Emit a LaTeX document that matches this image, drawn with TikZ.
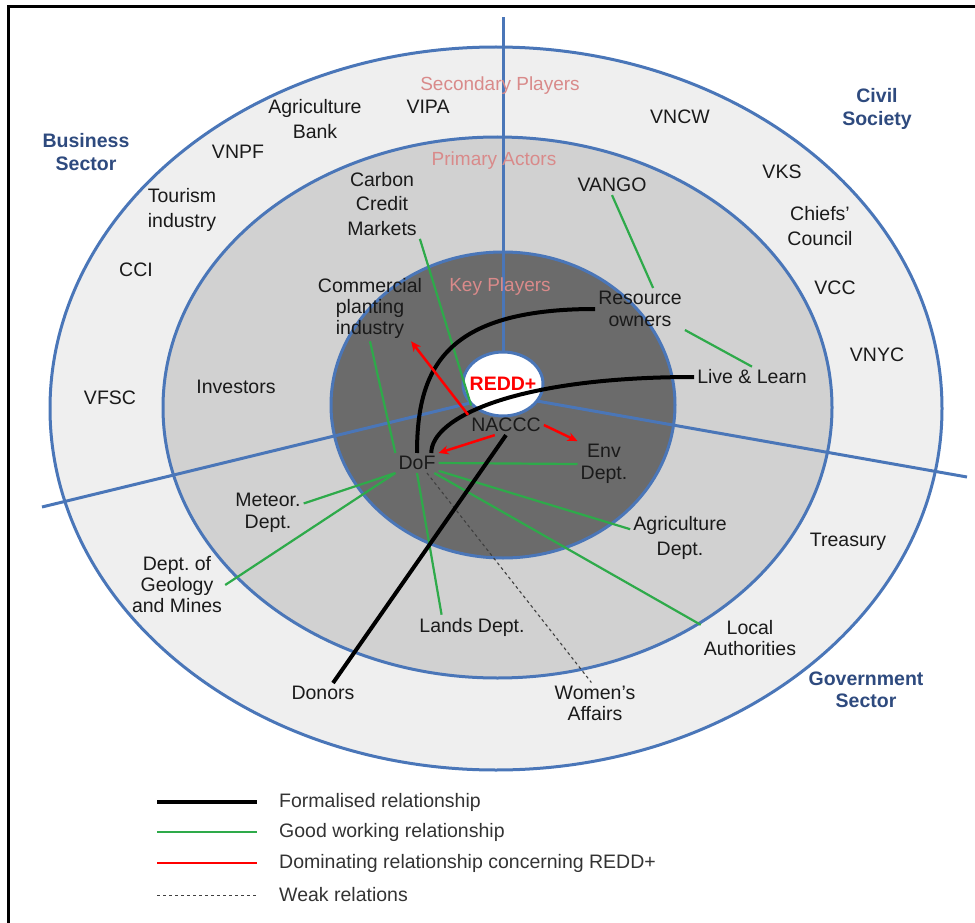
\documentclass[tikz,border=0pt]{standalone}
\usepackage{fontspec}
\setmainfont{Liberation Sans}
\usepackage{xcolor}
\usepackage{tikz}
\usetikzlibrary{arrows.meta,shapes.geometric}
\frenchspacing
\newcommand{\actfont}{\fontsize{19.5}{22.5}\selectfont}
\definecolor{ringBlue}{HTML}{4A76B8}
\definecolor{sectBlue}{HTML}{2E4A7E}
\definecolor{layerPink}{HTML}{D98A8A}
\definecolor{goodGreen}{HTML}{2EAA4A}
\definecolor{outerGrey}{HTML}{EFEFEF}
\definecolor{midGrey}{HTML}{D1D1D1}
\definecolor{keyGrey}{HTML}{6B6B6B}
\definecolor{txtGrey}{HTML}{1A1A1A}
\tikzset{
  actor/.style={font=\actfont,text=txtGrey,align=center,inner sep=3pt},
  loose/.style={font=\fontsize{19.5}{24.5}\selectfont},
  tight/.style={font=\fontsize{19.5}{21}\selectfont},
  layer/.style={font=\fontsize{19}{22}\selectfont,text=layerPink,inner sep=2pt},
  sector/.style={font=\bfseries\fontsize{19.5}{22.5}\selectfont,text=sectBlue,align=center},
  ring/.style={draw=ringBlue,line width=3pt},
  redd/.style={ellipse,draw=ringBlue,line width=3pt,fill=white,minimum width=80pt,
    minimum height=64pt,inner sep=0pt,text=red,font=\bfseries\fontsize{19.5}{22}\selectfont},
  formal/.style={line width=4pt,black},
  good/.style={line width=2.2pt,goodGreen},
  domin/.style={line width=2.5pt,red,-{Stealth[length=10pt,width=9pt]}},
  weak/.style={line width=1.1pt,black!75,dash pattern=on 3pt off 3pt},
  legtext/.style={font=\actfont,text=black!80,anchor=west,inner sep=0pt},
}
\begin{document}
\begin{tikzpicture}[x=1pt,y=-1pt]
\useasboundingbox (0,0) rectangle (975,923);
\clip (0,0) rectangle (975,923);
\draw[line width=3pt] (8,7) rectangle (1010,960);
% rings
\fill[outerGrey] (496,408.5) ellipse [x radius=446pt,y radius=361.5pt];
\fill[midGrey] (497.5,407.5) ellipse [x radius=334.5pt,y radius=270.5pt];
\fill[keyGrey] (503,405) ellipse [x radius=172pt,y radius=153pt];
\coordinate (hub) at (503,395);
\coordinate (nEnd) at (503,17);
\coordinate (wEnd) at (42,507);
\coordinate (eEnd) at (967,477);
\draw[ring] (hub) -- (nEnd);
\draw[ring] (hub) -- (wEnd);
\draw[ring] (hub) -- (eEnd);
\draw[ring] (496,408.5) ellipse [x radius=446pt,y radius=361.5pt];
\draw[ring] (497.5,407.5) ellipse [x radius=334.5pt,y radius=270.5pt];
\draw[ring] (503,405) ellipse [x radius=172pt,y radius=153pt];
\node[redd] (redd) at (503,384) {\makebox[0pt]{REDD+}};
% layer and sector labels
\node[layer] (secp) at (500,86) {Secondary Players};
\node[layer] (prim) at (494,161) {Primary Actors};
\node[layer] (keyp) at (500,287) {Key Players};
\node[sector] (bus) at (86,152) {Business\\Sector};
\node[sector] (civ) at (877,109) {Civil\\Society};
\node[sector] (gov) at (866,690) {Government\\Sector};
% secondary players
\node[actor,loose] (agbank) at (315,119) {Agriculture\\Bank};
\node[actor] (vipa) at (428,107) {VIPA};
\node[actor] (vncw) at (680,117) {VNCW};
\node[actor] (vnpf) at (238,152) {VNPF};
\node[actor] (vks) at (782,172) {VKS};
\node[actor,loose] (tour) at (182,210) {Tourism\\industry};
\node[actor,loose] (chiefs) at (820,226) {Chiefs'\\Council};
\node[actor] (cci) at (136,270) {CCI};
\node[actor] (vcc) at (835,288) {VCC};
\node[actor] (vnyc) at (877,355) {VNYC};
\node[actor] (vfsc) at (110,398) {VFSC};
\node[actor] (treas) at (848,542) {Treasury};
\node[actor] (donors) at (323,693) {Donors};
\node[actor,tight] (women) at (595,703) {Women's\\Affairs};
% primary actors
\node[actor] (inv) at (236,387) {Investors};
\node[actor,loose] (carbon) at (382,204) {Carbon\\Credit\\Markets};
\node[actor] (vango) at (612,185) {VANGO};
\node[actor] (ll) at (752,377) {Live \& Learn};
\node[actor] (met) at (268,513) {Meteor.\\Dept.};
\node[actor,loose] (agri) at (680,538) {Agriculture\\Dept.};
\node[actor,tight] (geol) at (177,585) {Dept. of\\Geology\\and Mines};
\node[actor] (lands) at (472,627) {Lands Dept.};
\node[actor,tight] (local) at (750,638) {Local\\Authorities};
% key players
\node[actor,tight] (comm) at (370,308) {Commercial\\planting\\industry};
\node[actor,font=\fontsize{19.5}{22}\selectfont] (res) at (640,309) {Resource\\owners};
\node[actor] (naccc) at (506,425) {NACCC};
\node[actor] (dof) at (417,463) {DoF};
\node[actor,font=\fontsize{19.5}{22}\selectfont] (env) at (604,464) {Env\\Dept.};
% relationships
\draw[good] (carbon.south east) -- (redd.214);
\draw[good] (vango.south) -- (res.58);
\draw[good] (res.south east) -- (ll.north);
\draw[good] (comm.south) -- (dof.north west);
\draw[good] (dof.east) -- (env.west);
\draw[good] (dof.south west) -- (met.15);
\draw[good] (dof.south west) -- (geol.east);
\draw[good] (dof.south) -- (lands.158);
\draw[good] (dof.-20) -- (agri.170);
\draw[good] (dof.-30) -- (local.165);
\draw[weak] (dof.-45) -- (women.100);
\draw[formal] (dof.north) .. controls +(0,-85) and +(-150,0) .. (res.west);
\draw[formal] (dof.35) .. controls +(0,-35) and +(-180,0) .. (ll.west);
\draw[formal] (naccc.south) -- (donors.45);
\draw[domin] (naccc.north west) -- (comm.-39);
\draw[domin] (naccc.-138) -- (dof.north east);
\draw[domin] (naccc.east) -- (env.north west);
% legend
\node[legtext] (lg1) at (279,802) {Formalised relationship};
\node[legtext] (lg2) at (279,832) {Good working relationship};
\node[legtext] (lg3) at (279,863) {Dominating relationship concerning REDD+};
\node[legtext] (lg4) at (279,895) {Weak relations};
\draw[formal] ([xshift=-122pt]lg1.west) -- ([xshift=-22pt]lg1.west);
\draw[good] ([xshift=-122pt]lg2.west) -- ([xshift=-22pt]lg2.west);
\draw[line width=2.5pt,red] ([xshift=-122pt]lg3.west) -- ([xshift=-22pt]lg3.west);
\draw[weak,line width=1pt] ([xshift=-122pt]lg4.west) -- ([xshift=-22pt]lg4.west);
\end{tikzpicture}
\end{document}
